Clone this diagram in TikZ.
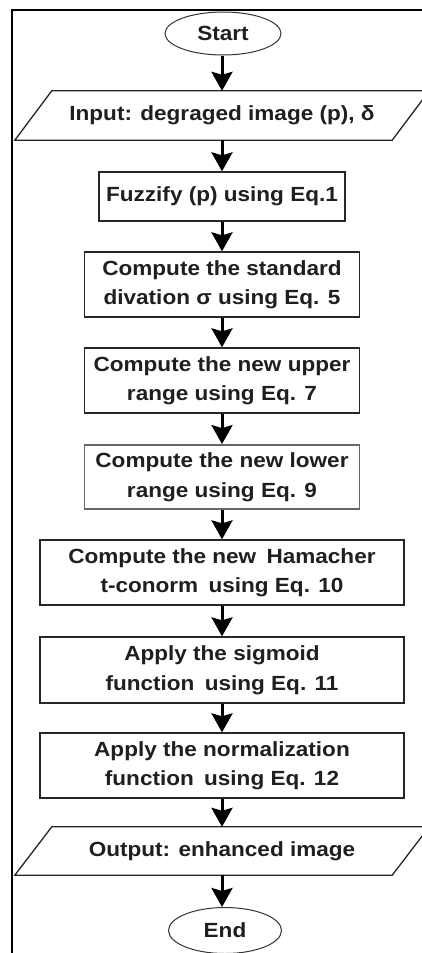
\documentclass[tikz,border=0pt]{standalone}
\usepackage{fontspec}
\setmainfont[FakeStretch=1.1]{Liberation Sans}
\usetikzlibrary{arrows.meta,shapes.geometric}

\begin{document}
\begin{tikzpicture}[x=1pt,y=1pt,
  every node/.style={font=\bfseries\fontsize{20.5}{29.5}\selectfont, text=black!88, align=center, inner sep=0pt},
  terminal/.style={ellipse, draw=black!80, line width=1pt, minimum width=116pt, minimum height=43pt},
  procbox/.style={rectangle, draw=black!85, line width=1.3pt},
  iobody/.style={rectangle, minimum width=377pt, minimum height=49pt},
  iopath/.style={draw=black!85, line width=1.3pt},
  flow/.style={line width=3pt, -{Stealth[width=21pt,length=19pt,inset=3pt]}}
]
\useasboundingbox (0,0) rectangle (422,-953);

% outer frame (left and top edges)
\draw[line width=2pt] (12,-953) -- (12,-10) -- (422,-10);

% terminals and steps
\node[terminal] (start) at (223,-33.5) {Start};

\node[iobody] (in) at (222,-115.5) {Input: degraged image (p), δ};
\draw[iopath] ([xshift=-18.5pt]in.south west) -- ([xshift=18.5pt]in.north west)
  -- ([xshift=18.5pt]in.north east) -- ([xshift=-18.5pt]in.south east) -- cycle;

\node[procbox, minimum width=246pt, minimum height=49pt] (fuzz) at (222,-196.5) {Fuzzify (p) using Eq.1};
\node[procbox, minimum width=275pt, minimum height=65pt] (std) at (222,-284.5) {Compute the standard\\divation σ using Eq. 5};
\node[procbox, minimum width=275pt, minimum height=65pt] (upper) at (222,-380.5) {Compute the new upper\\range using Eq. 7};
\node[procbox, draw=black!60, line width=1.8pt, minimum width=275pt, minimum height=64pt] (lower) at (222,-477) {Compute the new lower\\range using Eq. 9};
\node[procbox, minimum width=364pt, minimum height=65pt] (ham) at (222,-572.5) {Compute the new\hspace{4pt} Hamacher\\t-conorm\hspace{4pt} using Eq. 10};
\node[procbox, minimum width=364pt, minimum height=66pt] (sig) at (222,-670) {Apply the sigmoid\\function\hspace{4pt} using Eq. 11};
\node[procbox, minimum width=364pt, minimum height=65pt] (norm) at (222,-765.5) {Apply the normalization\\function\hspace{4pt} using Eq. 12};

\node[iobody, minimum height=48pt] (out) at (222,-851) {Output: enhanced image};
\draw[iopath] ([xshift=-18.5pt]out.south west) -- ([xshift=18.5pt]out.north west)
  -- ([xshift=18.5pt]out.north east) -- ([xshift=-18.5pt]out.south east) -- cycle;

\node[terminal, minimum width=113pt, minimum height=46pt] (end) at (225,-930.5) {End};

% connectors
\draw[flow] (start.south -| in.north) -- (in.north);
\draw[flow] (in.south) -- (fuzz.north);
\draw[flow] (fuzz.south) -- (std.north);
\draw[flow] (std.south) -- (upper.north);
\draw[flow] (upper.south) -- (lower.north);
\draw[flow] (lower.south) -- (ham.north);
\draw[flow] (ham.south) -- (sig.north);
\draw[flow] (sig.south) -- (norm.north);
\draw[flow] (norm.south) -- (out.north);
\draw[flow] (out.south) -- (out.south |- end.north);
\end{tikzpicture}
\end{document}
